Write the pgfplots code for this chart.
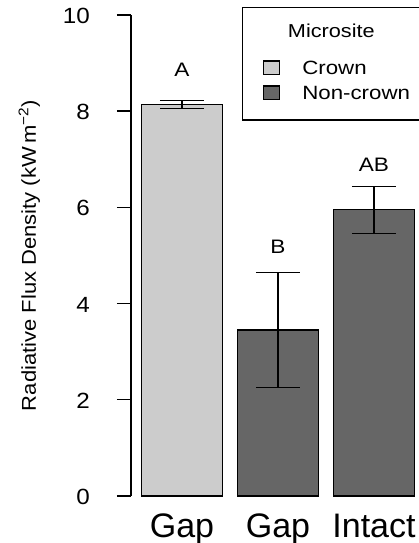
\documentclass[border=0pt]{standalone}
\usepackage{fontspec}
\setmainfont{Liberation Sans}
\newfontfamily\lsf{Liberation Sans}[FakeStretch=1.16]
\newfontfamily\tsf{Liberation Sans}[FakeStretch=1.1]
\usepackage{pgfplots}
\pgfplotsset{compat=1.18}
\definecolor{crown}{HTML}{CCCCCC}
\definecolor{noncrown}{HTML}{666666}
\newcommand{\legf}{\lsf\fontsize{19.2}{20}\selectfont}
\begin{document}
\begin{tikzpicture}
\begin{axis}[
  scale only axis, width=288pt, height=481pt,
  xmin=-0.531, xmax=2.469, ymin=0, ymax=10,
  axis y line*=left, axis x line*=bottom,
  x axis line style={draw=none},
  y axis line style={line width=1.4pt, black},
  ytick={0,2,4,6,8,10},
  xtick={0,1,2}, xticklabels={Gap,Gap,Intact},
  tick align=outside, major tick length=14pt,
  ytick style={line width=1.4pt, black},
  xtick style={draw=none},
  /pgf/number format/assume math mode=true,
  yticklabel style={font=\tsf\fontsize{22}{24}\selectfont, anchor=east, inner sep=0pt, xshift=-27pt, yshift=-1pt},
  xticklabel style={font=\fontsize{34}{36}\selectfont, anchor=base, inner sep=0pt, yshift=-27pt},
  ylabel={Radiative Flux Density (kW\,m\textsuperscript{−2})},
  ylabel style={font=\tsf\fontsize{20}{22}\selectfont, at={(axis description cs:-0.330,0.5)}, anchor=base, inner sep=0pt},
  legend cell align=left,
  legend style={at={(rel axis cs:1,1)}, anchor=north east, yshift=8.3pt, xshift=1pt,
    draw=black, line width=1.3pt, inner xsep=0pt, inner ysep=0pt, row sep=0pt, column sep=22pt,
    font=\legf, nodes={inner sep=0pt, text depth={}, text height={}}, cells={anchor=base west}},
  clip=false,
]
\addlegendimage{empty legend}
\addlegendentry{\makebox[117pt][l]{\makebox[58pt][c]{\rule[-10pt]{0pt}{40pt}\lsf\fontsize{18.7}{20}\selectfont Microsite}}}
\addplot[ybar, bar width=0.84, bar shift=0pt, fill=crown, draw=black, line width=1.3pt,
  legend image code/.code={\path (0pt,0pt); \draw[fill=crown, line width=1.3pt] (20.7pt,0pt) rectangle (36.7pt,13.5pt);},
  error bars/.cd, y dir=both, y explicit,
  error bar style={line width=1.3pt, black},
  error mark options={rotate=90, black, line width=1.3pt, mark size=22pt}]
  coordinates {(0,8.14) +- (0,0.08)};
\addlegendentry{\legf\rule[-8pt]{0pt}{35.3pt}Crown}
\addplot[ybar, bar width=0.84, bar shift=0pt, fill=noncrown, draw=black, line width=1.3pt,
  legend image code/.code={\path (0pt,0pt); \draw[fill=noncrown, line width=1.3pt] (20.7pt,0pt) rectangle (36.7pt,13.5pt);},
  error bars/.cd, y dir=both, y explicit,
  error bar style={line width=1.3pt, black},
  error mark options={rotate=90, black, line width=1.3pt, mark size=22pt}]
  coordinates {(1,3.45) +- (0,1.19) (2,5.95) +- (0,0.49)};
\addlegendentry{\legf\rule[-20.3pt]{0pt}{37.3pt}Non-crown}
\addplot[draw=none, forget plot, nodes near coords, point meta=explicit symbolic,
  every node near coord/.append style={text=black, anchor=center, inner sep=0pt, font=\lsf\fontsize{19.5}{20}\selectfont}]
  coordinates {(0,8.86) [A] (1,5.18) [B] (2,6.88) [AB]};
\end{axis}
\pgfresetboundingbox
\path (-131pt,-47pt) rectangle (288pt,496pt);
\end{tikzpicture}
\end{document}
